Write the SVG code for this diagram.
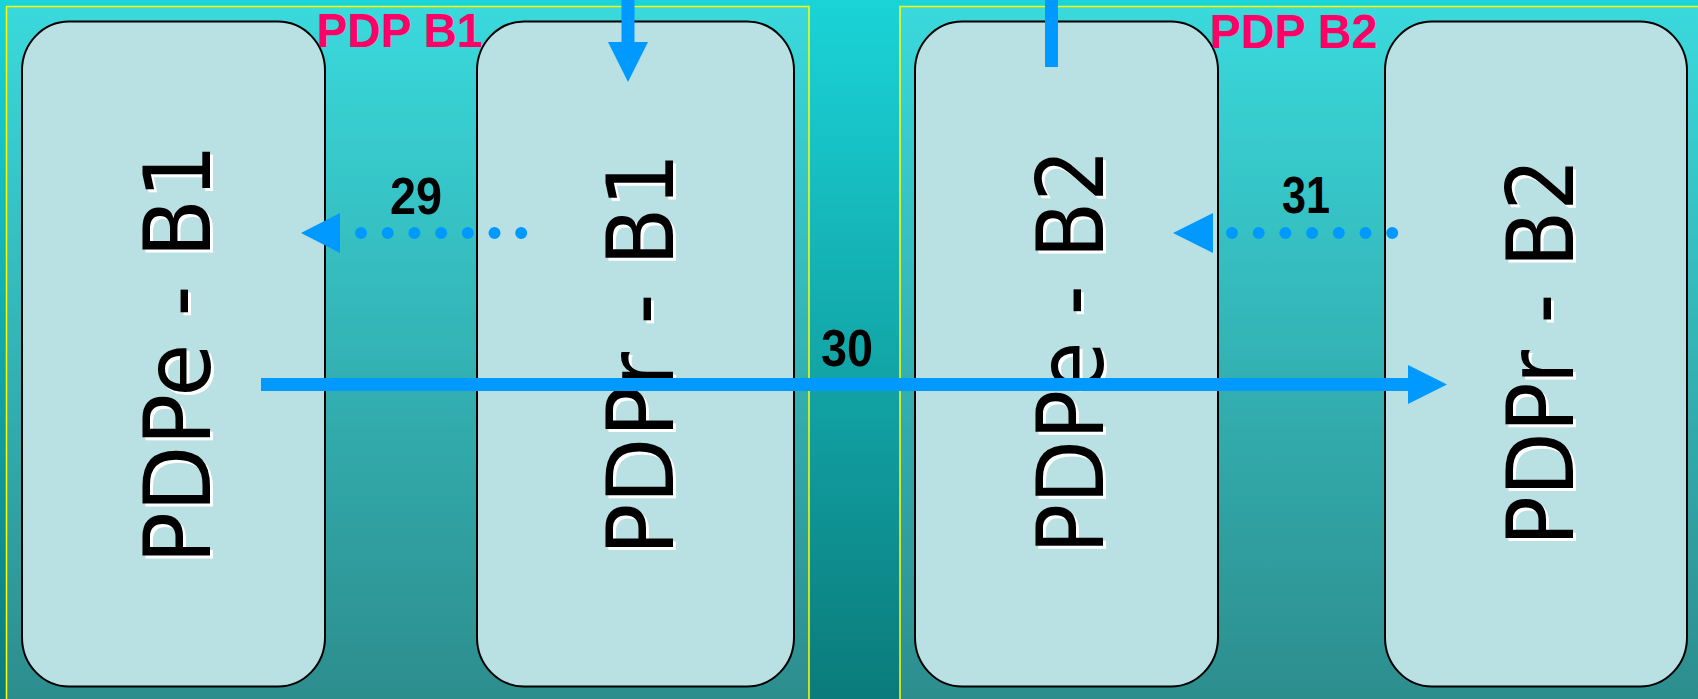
<svg xmlns="http://www.w3.org/2000/svg" width="1698" height="699" viewBox="0 0 1698 699">
<defs>
<linearGradient id="bg" x1="0" y1="0" x2="0" y2="1">
<stop offset="0" stop-color="#1ad4d8"/>
<stop offset="1" stop-color="#0b7b7b"/>
</linearGradient>
</defs>
<style>
.panel{fill:#ffffff;fill-opacity:0.14;stroke:#ffff00;stroke-width:1.5}
.node{fill:#b9e0e3;stroke:#000;stroke-width:2}
.ntxt{font-family:"DejaVu Sans",sans-serif;font-size:93px;text-anchor:middle;fill:#000}
.nsh{font-family:"DejaVu Sans",sans-serif;font-size:93px;text-anchor:middle;fill:#fff}
.ptitle{font-family:"Liberation Sans",Arial,sans-serif;font-weight:bold;font-size:49px;fill:#ff0066;text-anchor:middle}
.elabel{font-family:"Liberation Sans",Arial,sans-serif;font-weight:bold;font-size:51px;fill:#000;text-anchor:middle}
.solid{stroke:#0099ff;stroke-width:13;fill:none}
.dots{stroke:#0099ff;stroke-width:12;stroke-linecap:round;stroke-dasharray:0 26.7;fill:none}
.head{fill:#0099ff}
</style>
<rect x="0" y="0" width="1698" height="699" fill="url(#bg)"/>
<g id="panels">
<rect class="panel" x="6.5" y="6.5" width="802.5" height="710"/>
<rect class="panel" x="900" y="6.5" width="820" height="710"/>
</g>
<g id="node-pdpe-b1">
<rect class="node" x="22" y="21.5" width="303" height="665" rx="47" ry="49"/>
<text class="nsh" transform="translate(213,357) rotate(-90)" textLength="420" lengthAdjust="spacingAndGlyphs">PDPe - B1</text>
<text class="ntxt" transform="translate(210,354) rotate(-90)" textLength="420" lengthAdjust="spacingAndGlyphs">PDPe - B1</text>
</g>
<g id="node-pdpr-b1">
<rect class="node" x="477" y="21.5" width="317" height="665" rx="47" ry="49"/>
<text class="nsh" transform="translate(676,357) rotate(-90)" textLength="403" lengthAdjust="spacingAndGlyphs">PDPr - B1</text>
<text class="ntxt" transform="translate(673,354) rotate(-90)" textLength="403" lengthAdjust="spacingAndGlyphs">PDPr - B1</text>
</g>
<g id="node-pdpe-b2">
<rect class="node" x="915" y="21.5" width="303" height="665" rx="47" ry="49"/>
<text class="nsh" transform="translate(1106,354.5) rotate(-90)" textLength="405" lengthAdjust="spacingAndGlyphs">PDPe - B2</text>
<text class="ntxt" transform="translate(1103,351.5) rotate(-90)" textLength="405" lengthAdjust="spacingAndGlyphs">PDPe - B2</text>
</g>
<g id="node-pdpr-b2">
<rect class="node" x="1385" y="21.5" width="302" height="665" rx="47" ry="49"/>
<text class="nsh" transform="translate(1576,355) rotate(-90)" textLength="388" lengthAdjust="spacingAndGlyphs">PDPr - B2</text>
<text class="ntxt" transform="translate(1573,352) rotate(-90)" textLength="388" lengthAdjust="spacingAndGlyphs">PDPr - B2</text>
</g>
<g id="titles">
<text class="ptitle" x="399.5" y="46.5" textLength="166" lengthAdjust="spacingAndGlyphs">PDP B1</text>
<text class="ptitle" x="1293.5" y="48" textLength="168" lengthAdjust="spacingAndGlyphs">PDP B2</text>
</g>
<g id="connectors">
<line class="solid" x1="628" y1="-2" x2="628" y2="44"/>
<polygon class="head" points="608,42 648,42 628,82"/>
<line class="solid" x1="1051.5" y1="-2" x2="1051.5" y2="67"/>
<line class="dots" x1="361" y1="233" x2="522" y2="233"/>
<polygon class="head" points="301,233 340,213 340,253"/>
<line class="dots" x1="1232" y1="233" x2="1393" y2="233"/>
<polygon class="head" points="1173,233 1213,213 1213,253"/>
<line class="solid" x1="261" y1="384.5" x2="1410" y2="384.5"/>
<polygon class="head" points="1408,365 1408,404 1447,384.5"/>
<text class="elabel" x="416" y="214" textLength="52" lengthAdjust="spacingAndGlyphs">29</text>
<text class="elabel" x="847" y="366" textLength="52" lengthAdjust="spacingAndGlyphs">30</text>
<text class="elabel" x="1306" y="213" textLength="48" lengthAdjust="spacingAndGlyphs">31</text>
</g>
</svg>
